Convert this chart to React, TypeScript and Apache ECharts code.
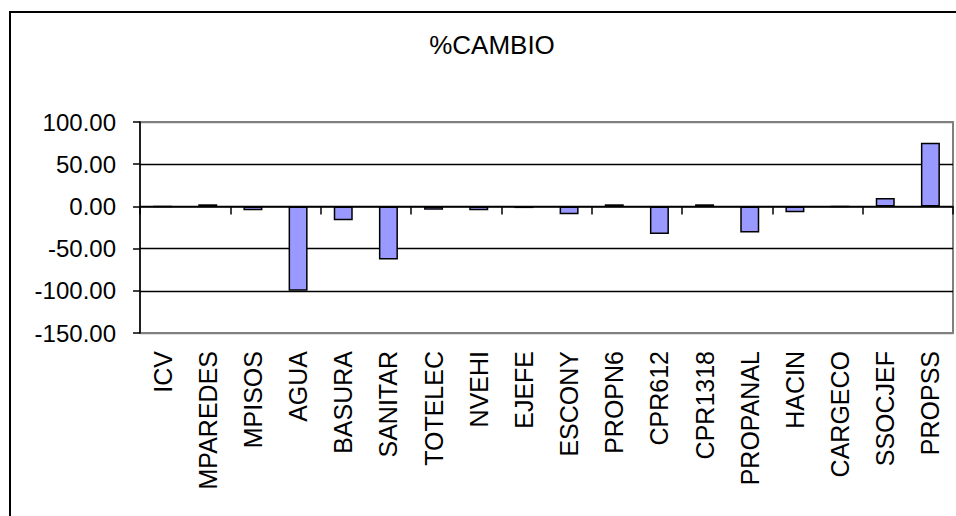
import React, { useEffect, useRef } from "react";
import * as echarts from "echarts";

const categories = [
  "ICV", "MPAREDES", "MPISOS", "AGUA", "BASURA", "SANITAR", "TOTELEC", "NVEHI", "EJEFE",
  "ESCONY", "PROPN6", "CPR612", "CPR1318", "PROPANAL", "HACIN", "CARGECO", "SSOCJEF", "PROPSS",
];
const cambio = [
  0, 2.5, -4.5, -100, -16.3, -63, -4, -4.5, -2,
  -9.3, 2.5, -32.7, 2.5, -30.8, -7, 0, 10, 75.5,
];
const yMin = -150;
const yMax = 100;
const yStep = 50;
const chartTitle = "%CAMBIO";

const FONT = "Arial, 'Liberation Sans', sans-serif";

export default function App() {
  const ref = useRef<HTMLDivElement>(null);

  useEffect(() => {
    if (!ref.current) return;
    const chart = echarts.init(ref.current, null, { renderer: "svg" });
    chart.setOption({
      animation: false,
      backgroundColor: "#ffffff",
      grid: {
        left: 140,
        right: 3,
        top: 122,
        bottom: 183,
        show: true,
        borderColor: "#808080",
        borderWidth: 2,
        backgroundColor: "transparent",
      },
      graphic: [
        {
          type: "rect",
          shape: { x: 10, y: 12, width: 1000, height: 600 },
          style: { fill: "none", stroke: "#000", lineWidth: 2 },
          silent: true,
          z: 100,
        },
        {
          type: "text",
          style: {
            text: chartTitle,
            x: 492,
            y: 45,
            textAlign: "center",
            textVerticalAlign: "middle",
            fontSize: 26,
            fontFamily: FONT,
            fill: "#000",
          },
        },
      ],
      xAxis: [
        {
          type: "category",
          data: categories,
          position: "bottom",
          axisLine: { show: false, onZero: false },
          axisTick: { show: false },
          axisLabel: {
            rotate: 90,
            interval: 0,
            margin: 18,
            fontSize: 25,
            fontFamily: FONT,
            color: "#000",
          },
        },
        {
          type: "category",
          data: categories,
          position: "bottom",
          axisLine: { show: true, onZero: true, lineStyle: { color: "#000", width: 1.5 } },
          axisTick: { show: true, length: 8, lineStyle: { color: "#000", width: 1.5 } },
          axisLabel: { show: false },
          z: 5,
        },
      ],
      yAxis: {
        type: "value",
        min: yMin,
        max: yMax,
        interval: yStep,
        axisLine: { show: true, lineStyle: { color: "#000", width: 1.5 } },
        axisTick: { show: true, length: 7, lineStyle: { color: "#000", width: 1.5 } },
        axisLabel: {
          margin: 24,
          fontSize: 24,
          fontFamily: FONT,
          color: "#000",
          formatter: (v: number) => v.toFixed(2),
        },
        splitLine: {
          show: true,
          lineStyle: {
            color: ["#808080", "#000", "#000", "#000", "#000", "#808080"],
            width: 1.3,
          },
        },
      },
      series: [
        {
          type: "bar",
          xAxisIndex: 0,
          data: cambio,
          barWidth: 19,
          itemStyle: { color: "#9999FF", borderColor: "#000", borderWidth: 1.5 },
          z: 3,
        },
      ],
    });
    return () => chart.dispose();
  }, []);

  return (
    <div
      ref={ref}
      style={{ position: "absolute", left: 0, top: 0, width: 956, height: 516, background: "#fff" }}
    />
  );
}
